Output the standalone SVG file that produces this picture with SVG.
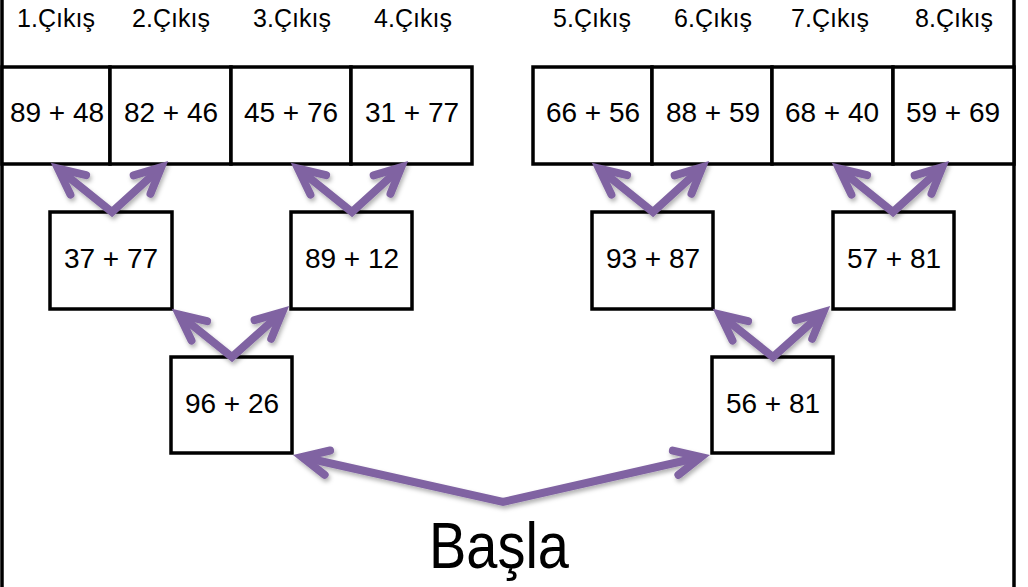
<svg xmlns="http://www.w3.org/2000/svg" width="1028" height="587" viewBox="0 0 1028 587">
<style>
.box{fill:#fff;stroke:#000;stroke-width:3.5}
.hdr{font-family:"Liberation Sans","DejaVu Sans",sans-serif;font-size:25px;fill:#000;text-anchor:middle}
.num{font-family:"Liberation Sans","DejaVu Sans",sans-serif;font-size:28px;fill:#000;text-anchor:middle}
.big{font-family:"Liberation Sans","DejaVu Sans",sans-serif;font-size:64px;fill:#000;text-anchor:middle}
.arr{fill:none;stroke:#8064A2;stroke-width:8;stroke-linejoin:miter;marker-start:url(#head);marker-end:url(#head)}
.border{stroke:#000;stroke-width:3.5}
</style>
<defs>
<marker id="head" markerUnits="userSpaceOnUse" orient="auto-start-reverse" refX="0" refY="0" markerWidth="60" markerHeight="60" viewBox="-40 -30 60 60" overflow="visible">
<path d="M-26,-12.5 L0,0 L-26,12.5" fill="none" stroke="#8064A2" stroke-width="8" stroke-linecap="round" stroke-linejoin="miter"/>
</marker>
<filter id="shadow" x="-10%" y="-10%" width="130%" height="140%">
<feDropShadow dx="1.5" dy="3" stdDeviation="2" flood-color="#000" flood-opacity="0.3"/>
</filter>
</defs>
<rect width="1028" height="587" fill="#fff"/>
<line class="border" x1="2" y1="0" x2="2" y2="587"/>
<line class="border" x1="1014" y1="0" x2="1014" y2="587"/>

<g id="exit1"><text class="hdr" x="56" y="27">1.Çıkış</text><rect class="box" x="2" y="67" width="108" height="97"/><text class="num" x="57" y="122">89 + 48</text></g>
<g id="exit2"><text class="hdr" x="171" y="27">2.Çıkış</text><rect class="box" x="110" y="67" width="121" height="97"/><text class="num" x="171" y="122">82 + 46</text></g>
<g id="exit3"><text class="hdr" x="292" y="27">3.Çıkış</text><rect class="box" x="231" y="67" width="120" height="97"/><text class="num" x="291" y="122">45 + 76</text></g>
<g id="exit4"><text class="hdr" x="413" y="27">4.Çıkış</text><rect class="box" x="351" y="67" width="121" height="97"/><text class="num" x="412" y="122">31 + 77</text></g>
<g id="exit5"><text class="hdr" x="592" y="27">5.Çıkış</text><rect class="box" x="533" y="67" width="119" height="97"/><text class="num" x="593" y="122">66 + 56</text></g>
<g id="exit6"><text class="hdr" x="713" y="27">6.Çıkış</text><rect class="box" x="652" y="67" width="120" height="97"/><text class="num" x="713" y="122">88 + 59</text></g>
<g id="exit7"><text class="hdr" x="830" y="27">7.Çıkış</text><rect class="box" x="772" y="67" width="121" height="97"/><text class="num" x="832" y="122">68 + 40</text></g>
<g id="exit8"><text class="hdr" x="954" y="27">8.Çıkış</text><rect class="box" x="893" y="67" width="121" height="97"/><text class="num" x="953" y="122">59 + 69</text></g>

<g id="n37_77"><rect class="box" x="50" y="212" width="122" height="97"/><text class="num" x="111" y="268">37 + 77</text></g>
<g id="n89_12"><rect class="box" x="291" y="212" width="121" height="97"/><text class="num" x="352" y="268">89 + 12</text></g>
<g id="n93_87"><rect class="box" x="592" y="212" width="121" height="97"/><text class="num" x="653" y="268">93 + 87</text></g>
<g id="n57_81"><rect class="box" x="833" y="212" width="121" height="97"/><text class="num" x="894" y="268">57 + 81</text></g>
<g id="n96_26"><rect class="box" x="171" y="357" width="121" height="96"/><text class="num" x="232" y="413">96 + 26</text></g>
<g id="n56_81"><rect class="box" x="712" y="357" width="121" height="96"/><text class="num" x="773" y="413">56 + 81</text></g>
<g id="start"><text class="big" x="499" y="568" textLength="140" lengthAdjust="spacingAndGlyphs">Başla</text></g>

<g id="connectors" filter="url(#shadow)">
<polyline class="arr" points="58,168.6 112,212 161.3,167.1"/>
<polyline class="arr" points="298,168.6 352,212 401.3,167.1"/>
<polyline class="arr" points="599,168.6 653,212 702.3,167.1"/>
<polyline class="arr" points="839,168.6 893,212 942.3,167.1"/>
<polyline class="arr" points="179,314.6 232,357 282.3,312.1"/>
<polyline class="arr" points="720,314.6 773,357 823.3,312.1"/>
<polyline class="arr" points="302,457 503,502 701,457"/>
</g>
</svg>
